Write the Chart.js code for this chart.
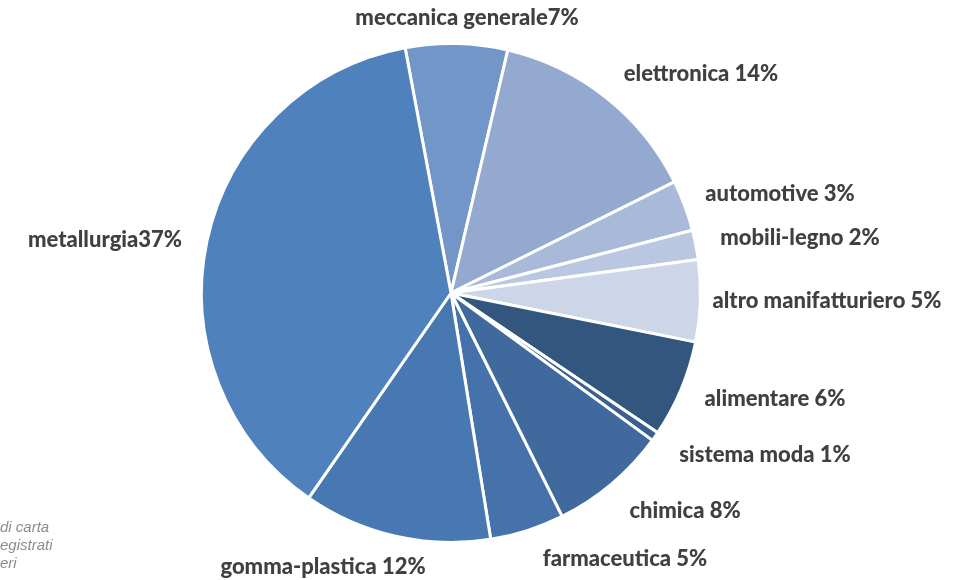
<!DOCTYPE html>
<html>
<head>
<meta charset="utf-8">
<script src="https://cdn.jsdelivr.net/npm/chart.js@4"></script>
<style>
  html, body { margin: 0; padding: 0; background: #fff; }
  #wrap { position: relative; width: 978px; height: 580px; }
</style>
</head>
<body>
<div id="wrap"><canvas id="graf_1" width="978" height="580"></canvas></div>
<script>
// settori (in senso orario, partendo da meccanica generale)
var settori = ['meccanica generale', 'elettronica', 'automotive', 'mobili-legno', 'altro manifatturiero',
    'alimentare', 'sistema moda', 'chimica', 'farmaceutica', 'gomma-plastica', 'metallurgia'];
var quote = [6.6, 14.0, 3.3, 1.9, 5.3, 6.3, 0.6, 7.6, 4.8, 12.2, 37.4];
var etichette = ['meccanica generale7%', 'elettronica 14%', 'automotive 3%', 'mobili-legno 2%', 'altro manifatturiero 5%',
    'alimentare 6%', 'sistema moda 1%', 'chimica 8%', 'farmaceutica 5%', 'gomma-plastica 12%', 'metallurgia37%'];
var colori = ['#7396C8', '#94A9CF', '#A9B9D9', '#BAC7E1', '#CDD6E8',
    '#33567F', '#3A6090', '#406A9E', '#4572AA', '#4878B1', '#4F81BD'];
// posizione (centro) delle etichette
var posEtichette = [[467, 18], [701, 74], [780, 194], [800, 238], [827, 301],
    [775, 399], [765, 455], [685, 511], [625, 559], [323, 567], [105, 240]];

// etichette esterne + nota in basso a sinistra
var etichettePlugin = {
    id: 'etichette',
    afterDraw: function (chart) {
        var c = chart.ctx;
        c.save();
        c.fillStyle = '#404040';
        c.font = '900 22px Lato';
        c.textAlign = 'center';
        c.textBaseline = 'middle';
        etichette.forEach(function (t, i) {
            c.fillText(t, posEtichette[i][0], posEtichette[i][1]);
        });
        c.fillStyle = '#8c8c8c';
        c.font = 'italic 15px "Liberation Sans"';
        c.textAlign = 'left';
        c.fillText('di carta', 0, 528);
        c.fillText('egistrati', 0, 546);
        c.fillText('eri', 0, 564);
        c.restore();
    }
};

var ctx = document.getElementById('graf_1').getContext('2d');
var chart = new Chart(ctx, {
    type: 'pie',
    data: {
        labels: settori,
        datasets: [{
            data: quote,
            backgroundColor: colori,
            borderColor: '#ffffff',
            borderWidth: 3
        }]
    },
    options: {
        responsive: false,
        animation: false,
        rotation: -10.6,
        layout: { padding: { left: 200, right: 276, top: 42, bottom: 36 } },
        plugins: {
            legend: { display: false },
            tooltip: { enabled: false }
        }
    },
    plugins: [etichettePlugin]
});
</script>
</body>
</html>
